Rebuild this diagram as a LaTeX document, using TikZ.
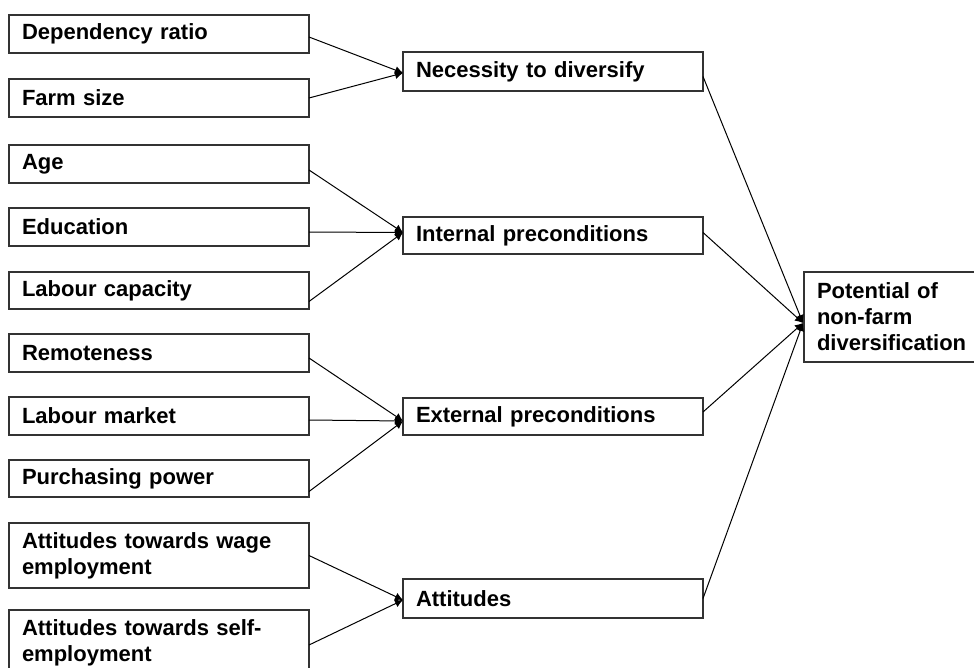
\documentclass[tikz,border=0pt]{standalone}
\usepackage{fontspec}
\setmainfont{Liberation Sans}
\usetikzlibrary{calc,arrows.meta}
\tikzset{
  box/.style={draw=black!80, line width=0.6pt, rectangle, anchor=north west,
    minimum width=150pt, text width=137pt, align=left, inner xsep=6.5pt, inner ysep=0pt,
    outer sep=0pt, font=\fontsize{11}{13}\selectfont\bfseries},
  conn/.style={line width=0.5pt, -{Latex[length=4pt,width=4pt]}}
}
\begin{document}
\begin{tikzpicture}[x=0.5pt,y=-0.5pt]
\useasboundingbox (0,0) rectangle (974,668);
% left boxes
\node[box, minimum height=19pt] (dep) at (9,15) {Dependency ratio};
\node[box, minimum height=19pt] (farm) at (9,79) {Farm size};
\node[box, minimum height=19pt] (age) at (9,145) {Age};
\node[box, minimum height=19pt] (edu) at (9,208) {Education};
\node[box, minimum height=18.5pt] (labcap) at (9,272) {Labour capacity};
\node[box, minimum height=19pt] (remote) at (9,334) {Remoteness};
\node[box, minimum height=19pt] (labmkt) at (9,397) {Labour market};
\node[box, minimum height=18.5pt] (purch) at (9,460) {Purchasing power};
\node[box, minimum height=32.5pt] (wage) at (9,523) {Attitudes towards wage\\employment};
\node[box, minimum height=32.5pt] (self) at (9,610) {Attitudes towards self-\\employment};
% middle boxes
\node[box, minimum height=19.5pt] (nec) at (403,52) {Necessity to diversify};
\node[box, minimum height=18.5pt] (intp) at (403,217) {Internal preconditions};
\node[box, minimum height=18.5pt] (extp) at (403,398) {External preconditions};
\node[box, minimum height=19.5pt] (att) at (403,579) {Attitudes};
% right box
\node[box, minimum width=84pt, text width=77.5pt, minimum height=45pt] (pot) at (804,272) {Potential of\\non-farm\\diversification};
% target coordinates
\coordinate (necin) at ($(nec.west)+(0,1.5)$);
\coordinate (intin) at ($(intp.west)+(0,-3)$);
\coordinate (extin) at ($(extp.west)+(0,4.5)$);
\coordinate (attin) at ($(att.west)+(0,1.5)$);
\coordinate (potin) at ($(pot.west)+(-1,6)$);
% left connectors
\draw[conn] ($(dep.east)+(0,3)$) -- (necin);
\draw[conn] (farm.east) -- (necin);
\draw[conn] ($(age.east)+(0,6)$) -- (intin);
\draw[conn] ($(edu.east)+(0,5)$) -- (intin);
\draw[conn] ($(labcap.east)+(0,11)$) -- (intin);
\draw[conn] ($(remote.east)+(0,5)$) -- (extin);
\draw[conn] ($(labmkt.east)+(0,4)$) -- (extin);
\draw[conn] ($(purch.east)+(0,13)$) -- (extin);
\draw[conn] (wage.east) -- (attin);
\draw[conn] ($(self.east)+(0,2.5)$) -- (attin);
% right connectors
\draw[conn] ($(nec.east)+(0,5)$) -- (potin);
\draw[conn] ($(intp.east)+(0,-3)$) -- (potin);
\draw[conn] ($(extp.east)+(0,-4.5)$) -- (potin);
\draw[conn] (att.east) -- (potin);
\end{tikzpicture}
\end{document}
